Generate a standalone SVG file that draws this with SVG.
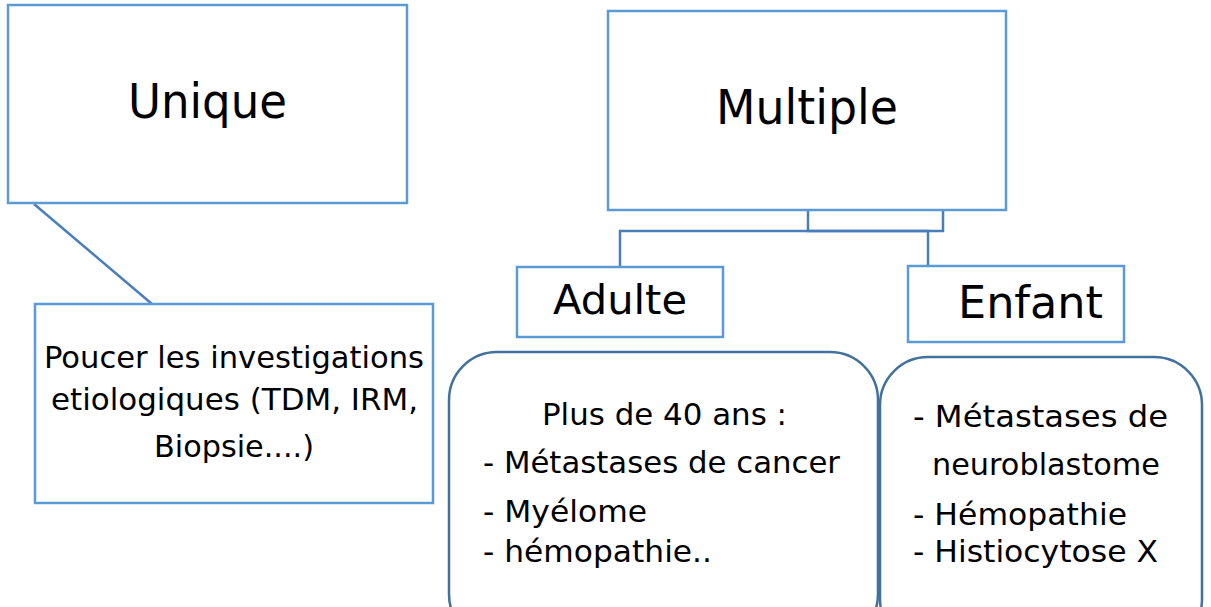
<svg xmlns="http://www.w3.org/2000/svg" width="1211" height="607" viewBox="0 0 1211 607">
<style>
.box{fill:#fff;stroke:#5b9bd5;stroke-width:2.5}
.rbox{fill:#fff;stroke:#41719c;stroke-width:2.5}
.con{fill:none;stroke:#4a7ebb;stroke-width:2.5}
text{font-family:"DejaVu Sans",sans-serif;fill:#000}
.big{font-size:48px}
.med{font-size:30px}
.sm{font-size:31px}
</style>
<rect width="1211" height="607" fill="#fff"/>
<g id="connectors">
<line class="con" x1="34" y1="204" x2="152" y2="304"/>
<polyline class="con" points="808,210 808,231 943,231 943,210"/>
<polyline class="con" points="620,267 620,231 928,231 928,266"/>
</g>
<g id="unique">
<rect class="box" x="8" y="5" width="399" height="198"/>
<text class="big" x="128" y="118" textLength="159" lengthAdjust="spacingAndGlyphs">Unique</text>
</g>
<g id="poucer">
<rect class="box" x="35" y="304" width="398" height="199"/>
<text class="sm"><tspan x="44" y="368" textLength="380" lengthAdjust="spacingAndGlyphs">Poucer les investigations</tspan><tspan x="51" y="410" textLength="367" lengthAdjust="spacingAndGlyphs">etiologiques (TDM, IRM,</tspan><tspan x="154" y="457" textLength="160" lengthAdjust="spacingAndGlyphs">Biopsie....)</tspan></text>
</g>
<g id="multiple">
<rect class="box" x="608" y="11" width="398" height="199"/>
<text class="big" x="716" y="124" textLength="182" lengthAdjust="spacingAndGlyphs">Multiple</text>
</g>
<g id="adulte">
<rect class="box" x="517" y="267" width="206" height="70"/>
<text x="553" y="314" font-size="40" textLength="134" lengthAdjust="spacingAndGlyphs">Adulte</text>
</g>
<g id="enfant">
<rect class="box" x="908" y="266" width="216" height="76"/>
<text x="958" y="318" font-size="45" textLength="145" lengthAdjust="spacingAndGlyphs">Enfant</text>
</g>
<g id="adulte-details">
<rect class="rbox" x="449" y="352" width="429" height="290" rx="48" ry="48"/>
<text class="med"><tspan x="542" y="425" textLength="245" lengthAdjust="spacingAndGlyphs">Plus de 40 ans :</tspan><tspan x="483" y="473" textLength="357" lengthAdjust="spacingAndGlyphs">- Métastases de cancer</tspan><tspan x="483" y="522" textLength="164" lengthAdjust="spacingAndGlyphs">- Myélome</tspan><tspan x="483" y="562" textLength="229" lengthAdjust="spacingAndGlyphs">- hémopathie..</tspan></text>
</g>
<g id="enfant-details">
<rect class="rbox" x="880" y="357" width="322" height="290" rx="48" ry="48"/>
<text class="med"><tspan x="913" y="427" textLength="255" lengthAdjust="spacingAndGlyphs">-  Métastases de</tspan><tspan x="932" y="475" textLength="228" lengthAdjust="spacingAndGlyphs">neuroblastome</tspan><tspan x="913" y="525" textLength="214" lengthAdjust="spacingAndGlyphs">- Hémopathie</tspan><tspan x="913" y="562" textLength="245" lengthAdjust="spacingAndGlyphs">- Histiocytose X</tspan></text>
</g>
</svg>
